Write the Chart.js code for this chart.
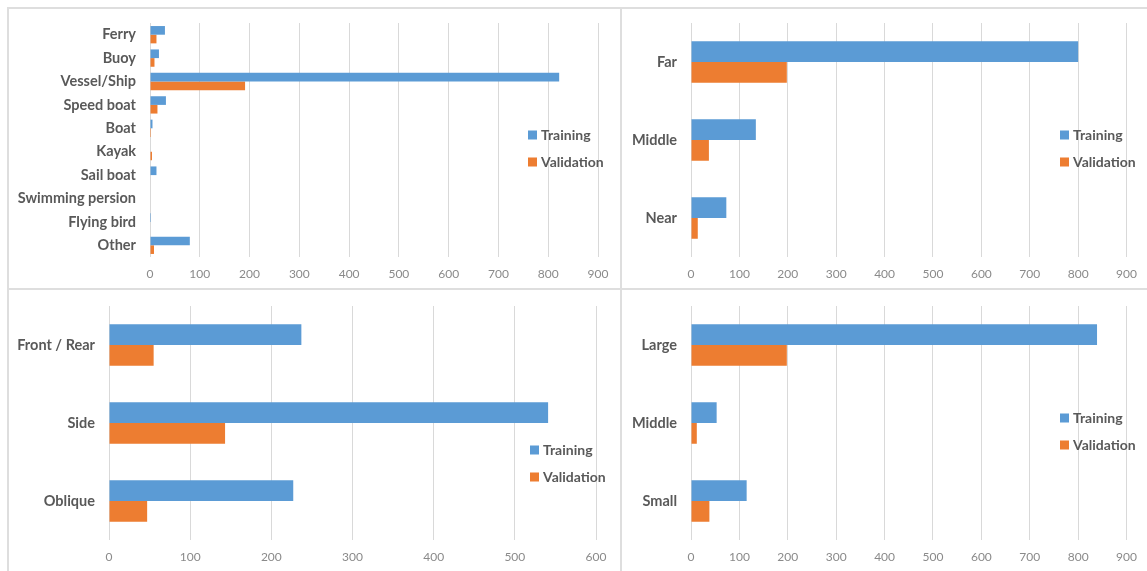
<!DOCTYPE html>
<html>
<head>
<meta charset="utf-8">
<script src="https://cdn.jsdelivr.net/npm/chart.js@4.4.1/dist/chart.umd.min.js"></script>
<style>
  html, body { margin: 0; padding: 0; background: #fff; }
  #wrap { position: relative; width: 1147px; height: 571px; overflow: hidden; }
  .box { position: absolute; }
  .line { position: absolute; background: #dedede; }
</style>
</head>
<body>
<div id="wrap">
  <div class="line" style="left:7px;top:7px;width:1140px;height:2px"></div>
  <div class="line" style="left:7px;top:288px;width:1140px;height:2px"></div>
  <div class="line" style="left:7px;top:7px;width:2px;height:564px"></div>
  <div class="line" style="left:620px;top:7px;width:2px;height:564px"></div>
  <div class="box" style="left:9px;top:9px;width:611px;height:279px"><canvas id="classChart"></canvas></div>
  <div class="box" style="left:622px;top:9px;width:525px;height:279px"><canvas id="distChart"></canvas></div>
  <div class="box" style="left:9px;top:290px;width:611px;height:281px"><canvas id="viewChart"></canvas></div>
  <div class="box" style="left:622px;top:290px;width:525px;height:281px"><canvas id="sizeChart"></canvas></div>
</div>
<script>
// Data
const seriesNames = ["Training", "Validation"];

const classLabels = ["Ferry", "Buoy", "Vessel/Ship", "Speed boat", "Boat", "Kayak", "Sail boat", "Swimming persion", "Flying bird", "Other"];
const classTraining = [30, 18, 822, 32, 5, 1, 13, 0, 2, 80];
const classValidation = [13, 9, 191, 15, 2, 4, 1, 0, 0, 8];

const distLabels = ["Far", "Middle", "Near"];
const distTraining = [800, 134, 73];
const distValidation = [198, 37, 14];

const viewLabels = ["Front / Rear", "Side", "Oblique"];
const viewTraining = [237, 541, 227];
const viewValidation = [55, 143, 47];

const sizeLabels = ["Large", "Middle", "Small"];
const sizeTraining = [839, 53, 115];
const sizeValidation = [198, 12, 38];

const BLUE = "#5B9BD5";
const ORANGE = "#ED7D31";
const FONT = "Lato, 'Open Sans', sans-serif";

// Legend drawn inside the chart, like the Excel original
const innerLegend = {
    id: "innerLegend",
    afterDraw(chart, args, opts) {
        const ctx = chart.ctx;
        ctx.save();
        ctx.font = "bold 14px " + FONT;
        ctx.textBaseline = "middle";
        chart.data.datasets.forEach((ds, i) => {
            const y = opts.y + i * 27;
            ctx.fillStyle = ds.backgroundColor;
            ctx.fillRect(opts.x, y - 4.5, 9, 9);
            ctx.fillStyle = "#595959";
            ctx.fillText(ds.label, opts.x + 13, y + 0.5);
        });
        ctx.restore();
    }
};

function makeChart(id, labels, training, validation, cfg) {
    const canvas = document.getElementById(id);
    return new Chart(canvas, {
        type: "bar",
        data: {
            labels: labels,
            datasets: [
                { label: seriesNames[0], data: training, backgroundColor: BLUE },
                { label: seriesNames[1], data: validation, backgroundColor: ORANGE }
            ]
        },
        options: {
            indexAxis: "y",
            responsive: true,
            maintainAspectRatio: false,
            animation: false,
            datasets: { bar: { categoryPercentage: cfg.catPct, barPercentage: 1 } },
            layout: { padding: { top: cfg.top, right: cfg.right, left: 0, bottom: 0 } },
            plugins: {
                legend: { display: false },
                tooltip: { enabled: false },
                innerLegend: { x: cfg.legX, y: cfg.legY }
            },
            scales: {
                x: {
                    min: 0,
                    max: cfg.max,
                    ticks: { stepSize: 100, color: "#8a8a8a", font: { family: FONT, size: 12 }, padding: cfg.tickPad },
                    grid: { color: "#d9d9d9", lineWidth: 1, drawTicks: false },
                    border: { display: false },
                    afterFit: s => { s.height = cfg.xh; }
                },
                y: {
                    ticks: { color: "#595959", font: { family: FONT, size: 14.5, weight: "bold" }, padding: 14, autoSkip: false },
                    grid: { display: false, drawTicks: false },
                    border: { display: false },
                    afterFit: s => {
                        s.width = cfg.yw;
                        s.paddingTop = 0;
                        s.paddingBottom = 0;
                    }
                }
            }
        },
        plugins: [innerLegend]
    });
}

makeChart("classChart", classLabels, classTraining, classValidation,
    { max: 900, catPct: 0.74, top: 14, right: 22, yw: 141, xh: 31, tickPad: 10, legX: 519, legY: 126 });
makeChart("distChart", distLabels, distTraining, distValidation,
    { max: 900, catPct: 0.53, top: 14, right: 20, yw: 69, xh: 31, tickPad: 10, legX: 438, legY: 126 });
makeChart("viewChart", viewLabels, viewTraining, viewValidation,
    { max: 600, catPct: 0.53, top: 16, right: 24, yw: 100, xh: 31, tickPad: 10, legX: 521, legY: 160 });
makeChart("sizeChart", sizeLabels, sizeTraining, sizeValidation,
    { max: 900, catPct: 0.53, top: 16, right: 20, yw: 69, xh: 31, tickPad: 10, legX: 438, legY: 128 });
</script>
</body>
</html>
